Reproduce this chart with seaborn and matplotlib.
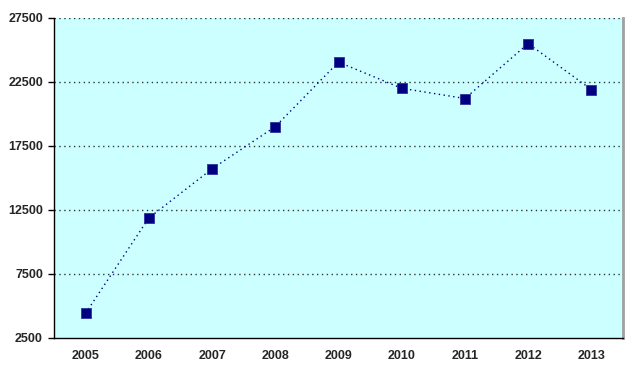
import matplotlib
matplotlib.use("Agg")
import matplotlib.pyplot as plt
import seaborn as sns
import pandas as pd

years = ["2005", "2006", "2007", "2008", "2009", "2010", "2011", "2012", "2013"]
values = [4400, 11850, 15700, 19000, 24050, 22000, 21200, 25500, 21900]
yticks = [2500, 7500, 12500, 17500, 22500, 27500]

sns.set_theme(style="white")
plt.rcParams["font.family"] = ["Liberation Sans", "DejaVu Sans"]

df = pd.DataFrame({"year": years, "value": values})
df["pos"] = range(len(years))

fig = plt.figure(figsize=(6.4, 3.75), dpi=100)
ax = fig.add_axes([54/640, 1 - 337.5/375, (623 - 54)/640, (337.5 - 18)/375])
ax.set_facecolor("#CCFFFF")

sns.lineplot(data=df, x="pos", y="value", ax=ax, color="#000080",
             linestyle=(0, (1, 2.5)), linewidth=1.0, marker="s",
             markersize=6.5, markerfacecolor="#000080",
             markeredgecolor="#3030A0", markeredgewidth=0.6)

ax.set_xlim(-0.5, len(years) - 0.5)
ax.set_ylim(2500, 27500)
ax.set_yticks(yticks)
ax.set_yticklabels([str(t) for t in yticks], fontsize=9, fontweight="bold")
ax.set_xticks(range(len(years)))
ax.set_xticklabels(years, fontsize=9, fontweight="bold")
ax.set_xticks([i + 0.5 for i in range(-1, len(years))], minor=True)
ax.tick_params(axis="x", which="major", length=0, pad=9)
ax.tick_params(axis="x", which="minor", length=4, width=1, color="black", direction="out")
ax.tick_params(axis="y", length=4, width=1, color="black", direction="out", left=True, pad=4)
ax.set_xlabel("")
ax.set_ylabel("")

for t in yticks[1:]:
    ax.axhline(t, color="#333333", linestyle=(0, (1, 2.5)), linewidth=1.0, zorder=1)

for s in ["left", "bottom"]:
    ax.spines[s].set_color("black")
    ax.spines[s].set_linewidth(1.0)
ax.spines["top"].set_visible(False)
ax.spines["right"].set_color("#A0A0A0")
ax.spines["right"].set_linewidth(2)

fig.savefig("out.png", dpi=100)
